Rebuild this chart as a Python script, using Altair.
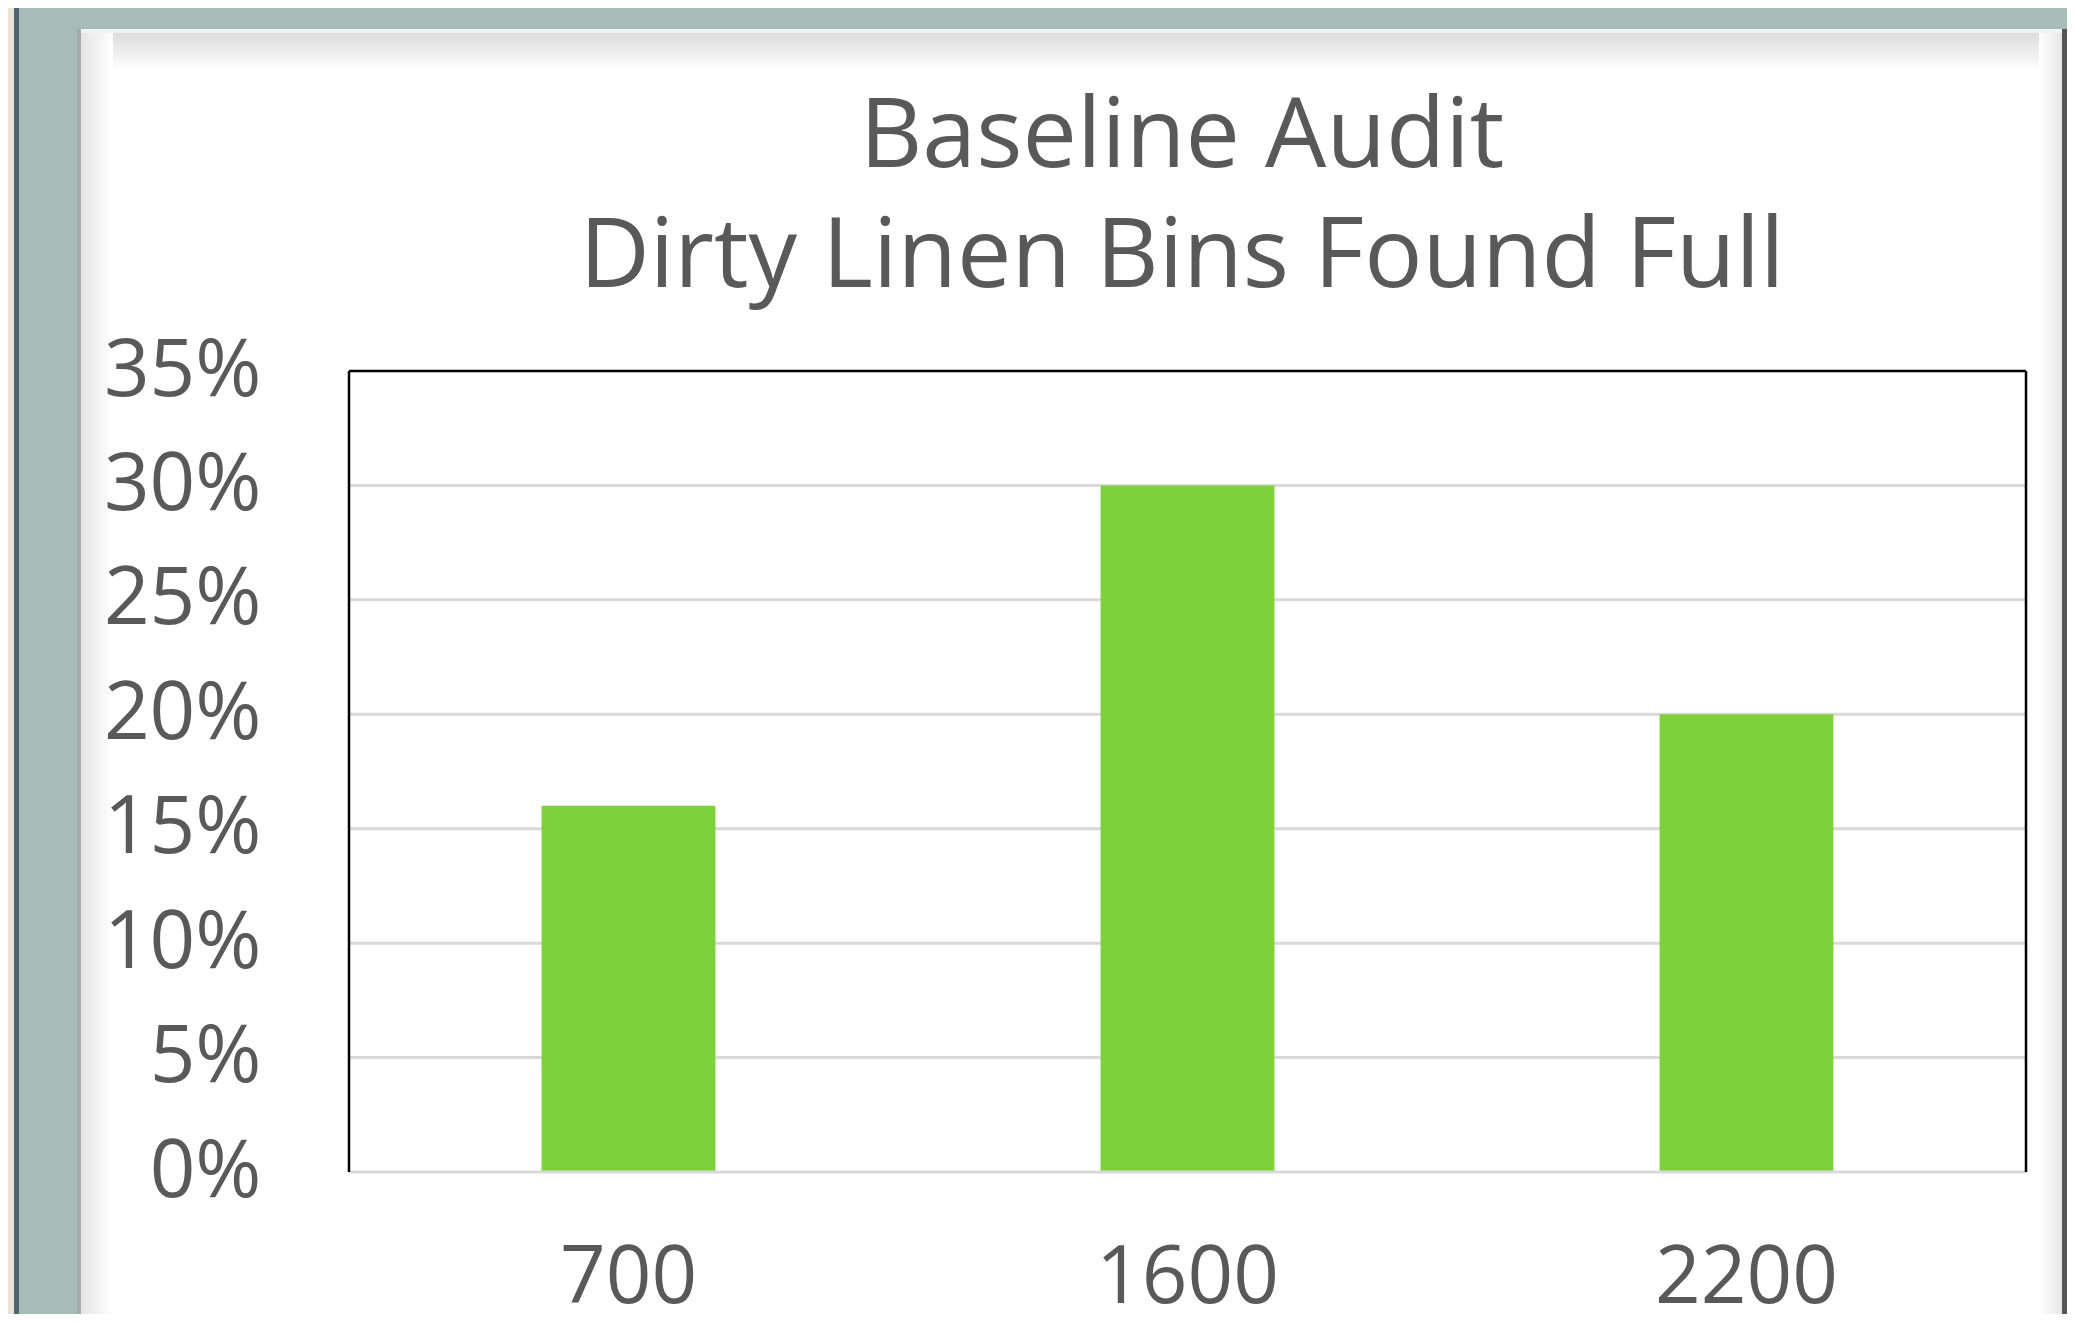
import altair as alt
import pandas as pd

# ---- data ----
categories = ["700", "1600", "2200"]
values = [0.16, 0.30, 0.20]
y_ticks = [0.0, 0.05, 0.10, 0.15, 0.20, 0.25, 0.30, 0.35]
grid_ticks = [0.05, 0.10, 0.15, 0.20, 0.25, 0.30]
title_lines = ["Baseline Audit", "Dirty Linen Bins Found Full"]

# ---- layout / style ----
W, H = 1677, 801
FONT = "Open Sans"
TEXT = "#595959"
BAR = "#7FD13B"
TEAL = "#A6BDB7"

df = pd.DataFrame({"cat": categories, "val": values})
one = pd.DataFrame({"k": [0]})

xscale = alt.Scale(domain=categories, paddingInner=0.689, paddingOuter=0.3445)
yscale = alt.Scale(domain=[0, 0.35], nice=False, zero=True)

y_axis = alt.Axis(
    title=None, values=y_ticks, format=".0%", domain=False, ticks=False,
    grid=False, labelFont=FONT, labelFontSize=80, labelColor=TEXT,
    labelPadding=88, labelLimit=500, zindex=1,
)
x_axis = alt.Axis(
    title=None, domain=False, ticks=False, grid=False, labelAngle=0,
    labelFont=FONT, labelFontSize=80, labelColor=TEXT, labelPadding=67,
    labelLimit=500, zindex=1,
)


def box(x, x2, y, y2, color):
    return alt.Chart(one).mark_rect(color=color).encode(
        x=alt.value(x), x2=alt.value(x2), y=alt.value(y), y2=alt.value(y2)
    )


def grad(c1, c2, vertical=True):
    return alt.Gradient(
        gradient="linear",
        stops=[alt.GradientStop(color=c1, offset=0), alt.GradientStop(color=c2, offset=1)],
        x1=0, y1=0, x2=0 if vertical else 1, y2=1 if vertical else 0,
    )


decor = [
    box(-345, -335, -400, H + 200, "#EAE2D6"),
    box(-335, -330, -400, H + 200, "#4F6270"),
    box(-272, 1716, -342, H + 200, "#FFFFFF"),
    box(-272, 1716, -338, -300, grad("#DCDCDC", "#FFFFFF")),
    box(-272, 1716, -342, -338, "#F2F2F2"),
    box(-272, -268, -342, H + 200, "#A8A8A8"),
    box(-268, -236, -338, H + 200, grad("#E4E4E4", "#FFFFFF", vertical=False)),
    box(1690, 1713, -338, H + 200, grad("#FFFFFF", "#E6E6E6", vertical=False)),
    box(1713, 1719, -342, H + 200, "#555555"),
]

grid = alt.Chart(pd.DataFrame({"t": grid_ticks})).mark_rule(
    color="#D9D9D9", strokeWidth=3
).encode(
    y=alt.Y("t:Q", scale=yscale, axis=y_axis),
    x=alt.value(0), x2=alt.value(W),
)

bars = alt.Chart(df).mark_bar(color=BAR).encode(
    x=alt.X("cat:N", scale=xscale, sort=categories, axis=x_axis),
    y=alt.Y("val:Q", scale=yscale, axis=y_axis),
)

bottom_line = alt.Chart(one).mark_rule(color="#D9D9D9", strokeWidth=3).encode(
    x=alt.value(0), x2=alt.value(W), y=alt.value(H)
)
border = [
    alt.Chart(one).mark_rule(color="#000000", strokeWidth=2.5).encode(
        x=alt.value(0), y=alt.value(0), y2=alt.value(H)),
    alt.Chart(one).mark_rule(color="#000000", strokeWidth=2.5).encode(
        x=alt.value(W), y=alt.value(0), y2=alt.value(H)),
    alt.Chart(one).mark_rule(color="#000000", strokeWidth=2.5).encode(
        x=alt.value(0), x2=alt.value(W), y=alt.value(0)),
]

title_y = [-204, -84]
titles = [
    alt.Chart(pd.DataFrame({"t": [line]})).mark_text(
        font=FONT, fontSize=97, color=TEXT, align="center", baseline="alphabetic"
    ).encode(text="t:N", x=alt.value(833), y=alt.value(title_y[i]))
    for i, line in enumerate(title_lines)
]

chart = alt.layer(*decor, grid, bars, bottom_line, *border, *titles).properties(
    width=W,
    height=H,
    padding={"left": 341, "top": 363, "right": 41, "bottom": 142},
    autosize="none",
    background=TEAL,
).configure_view(stroke=None)

chart.save("out.html", embed_options={"renderer": "svg", "actions": False})
